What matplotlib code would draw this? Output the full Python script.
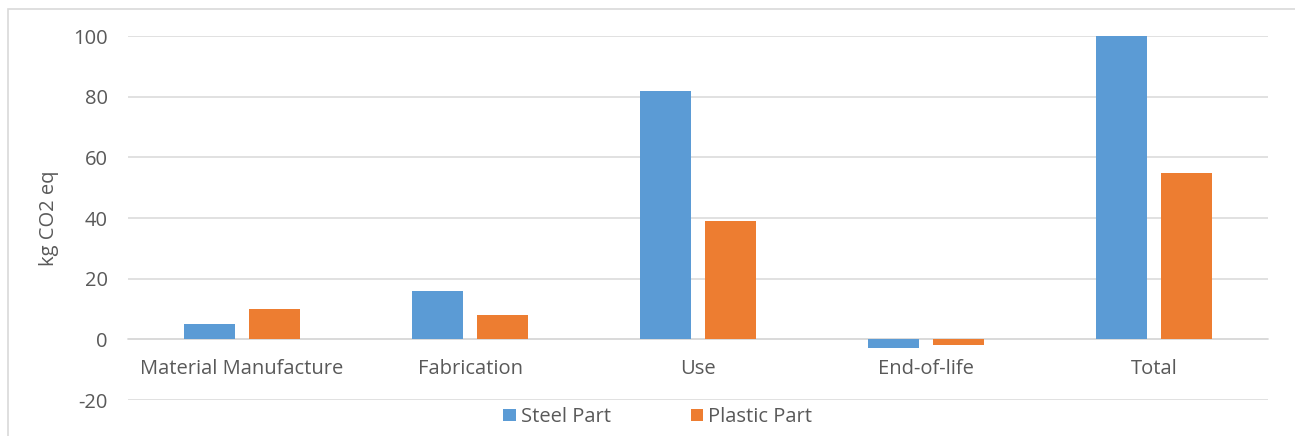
import numpy as np
import matplotlib
matplotlib.use("Agg")
import matplotlib.pyplot as plt
from matplotlib.patches import Rectangle

categories = ["Material Manufacture", "Fabrication", "Use", "End-of-life", "Total"]
steel = [5, 16, 82, -3, 100]
plastic = [10, 8, 39, -2, 55]
series_names = ["Steel Part", "Plastic Part"]
yticks = [-20, 0, 20, 40, 60, 80, 100]

BLUE, ORANGE = "#5B9BD5", "#ED7D31"
GRID, TXT = "#d9d9d9", "#595959"

plt.rcParams.update({"font.family": ["Open Sans", "DejaVu Sans"], "font.size": 14.5,
                     "axes.unicode_minus": False})

fig = plt.figure(figsize=(12.95, 4.36), dpi=100)
ax = fig.add_axes([128 / 1295, 1 - 400 / 436, 1140 / 1295, 364 / 436])

# outer chart frame (light grey, partly cut by the image edge)
fig.patches.append(Rectangle((8 / 1295, -0.1), 1.2, 1.1 - 9 / 436,
                             transform=fig.transFigure, fill=False,
                             edgecolor=GRID, lw=1.2))

x = np.arange(len(categories))
w = 0.224
off = 0.1425
ax.bar(x - off, steel, w, color=BLUE, label=series_names[0], zorder=3)
ax.bar(x + off, plastic, w, color=ORANGE, label=series_names[1], zorder=3)

ax.set_xlim(-0.5, len(categories) - 0.5)
ax.set_ylim(-20, 100)
ax.set_yticks(yticks)
ax.yaxis.grid(True, color=GRID, lw=1.1, zorder=0)
ax.set_axisbelow(True)
for s in ("left", "right", "top"):
    ax.spines[s].set_visible(False)
ax.spines["bottom"].set_position(("data", 0))
ax.spines["bottom"].set_color(GRID)
ax.spines["bottom"].set_linewidth(1.1)
ax.set_xticks(x)
ax.set_xticklabels(categories, color=TXT)
ax.tick_params(axis="x", length=0, pad=14)
ax.tick_params(axis="y", length=0, pad=14.5, colors=TXT)
for lbl in ax.get_yticklabels():
    lbl.set_color(TXT)
ax.set_ylabel("kg CO2 eq", color=TXT, labelpad=10)

fig.legend(loc="center", bbox_to_anchor=(0.508, 1 - 417 / 436), ncol=2,
           frameon=False, handlelength=0.6, handleheight=0.6,
           handletextpad=0.25, columnspacing=4.0, labelcolor=TXT)

fig.savefig("out.png", dpi=100)
